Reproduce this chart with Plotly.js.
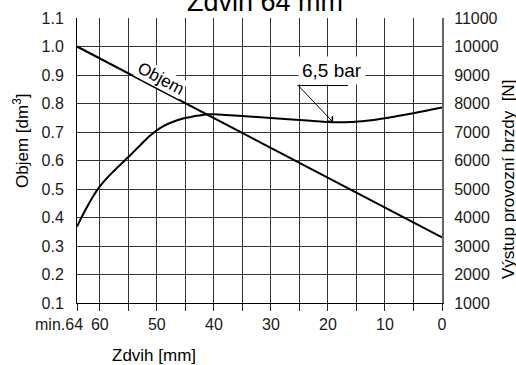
<!DOCTYPE html>
<html>
<head>
<meta charset="utf-8">
<script src="https://cdn.plot.ly/plotly-3.0.1.min.js"></script>
<style>html,body{margin:0;padding:0;background:#fff;}#chart{width:516px;height:365px;}</style>
</head>
<body>
<div id="chart"></div>
<script>
// Objem (volume) line, left axis [dm3]
const objemStroke = [64, 0];
const objemValues = [1.0, 0.33];

// Output force at 6,5 bar, right axis [N]
const forceStroke = [64, 63, 62, 61, 60, 59, 58, 57, 56, 55, 54, 53, 52, 51, 50, 49, 48, 47, 46, 45, 44, 43, 42, 41, 40, 38, 35, 30, 25, 22, 20, 18, 16, 14, 12, 10, 8, 6, 4, 2, 0];
const forceValues = [3680, 4090, 4460, 4800, 5090, 5330, 5540, 5740, 5930, 6120, 6320, 6520, 6720, 6900, 7060, 7190, 7290, 7370, 7440, 7490, 7530, 7570, 7600, 7620, 7620, 7600, 7560, 7490, 7420, 7380, 7350, 7340, 7350, 7380, 7420, 7480, 7550, 7620, 7700, 7780, 7860];

// Tick labels
const xTickVals = [64, 60, 55, 50, 45, 40, 35, 30, 25, 20, 15, 10, 5, 0];
const xTickText = ['', '60', '', '50', '', '40', '', '30', '', '20', '', '10', '', '0'];

const FONT = 'Liberation Sans, Arial, Helvetica, sans-serif';
const GRID = '#333333';

const traces = [
  {x: objemStroke, y: objemValues, type: 'scatter', mode: 'lines', yaxis: 'y',
   line: {color: '#000', width: 2}, hoverinfo: 'skip'},
  {x: forceStroke, y: forceValues, type: 'scatter', mode: 'lines', yaxis: 'y2',
   line: {color: '#000', width: 2, shape: 'spline', smoothing: 0.7}, hoverinfo: 'skip'}
];

const L = 77, T = 18, W = 365, H = 285;
const px = v => (v - L) / W;
const py = v => (T + H - v) / H;

const layout = {
  width: 516, height: 365,
  margin: {l: 77, r: 74, t: 18, b: 62},
  paper_bgcolor: '#ffffff', plot_bgcolor: 'rgba(0,0,0,0)',
  showlegend: false,
  font: {family: FONT, size: 16, color: '#1a1a1a'},
  xaxis: {
    range: [64, 0], tickmode: 'array', tickvals: xTickVals, ticktext: xTickText,
    ticks: 'outside', ticklen: 7, tickcolor: '#222', tickwidth: 1,
    showgrid: true, gridcolor: GRID, gridwidth: 1,
    showline: true, linecolor: '#000', linewidth: 1,
    zeroline: false, layer: 'below traces'
  },
  yaxis: {
    range: [0.1, 1.1], tickmode: 'linear', tick0: 0.1, dtick: 0.1, tickformat: '.1f',
    ticks: 'outside', ticklen: 9, tickcolor: 'rgba(0,0,0,0)',
    showgrid: true, gridcolor: GRID, gridwidth: 1,
    showline: true, linecolor: '#000', linewidth: 1, zeroline: false, layer: 'below traces'
  },
  yaxis2: {
    overlaying: 'y', side: 'right', range: [1000, 11000], tickmode: 'linear', tick0: 1000, dtick: 1000,
    tickformat: 'd', ticks: 'outside', ticklen: 7, tickcolor: 'rgba(0,0,0,0)',
    showgrid: false, showline: true, linecolor: '#666', linewidth: 2,
    zeroline: false
  },
  shapes: [
    {type: 'line', xref: 'x', yref: 'y2', x0: 25.3, x1: 16.5, y0: 8630, y1: 8630,
     line: {color: '#000', width: 1}}
  ],
  annotations: [
    {text: 'Zdvih 64 mm', xref: 'paper', yref: 'paper', x: px(265), y: py(2),
     xanchor: 'center', yanchor: 'middle', showarrow: false,
     font: {size: 27, family: FONT, color: '#000'}},
    {text: 'Objem [dm<sup>3</sup>]', xref: 'paper', yref: 'paper', x: px(21), y: py(141),
     xanchor: 'center', yanchor: 'middle', textangle: -90, showarrow: false,
     font: {size: 17, family: FONT, color: '#000'}},
    {text: 'Výstup provozní brzdy  [N]', xref: 'paper', yref: 'paper', x: px(508), y: py(180),
     xanchor: 'center', yanchor: 'middle', textangle: -90, showarrow: false,
     font: {size: 17, family: FONT, color: '#000'}},
    {text: 'Zdvih [mm]', xref: 'paper', yref: 'paper', x: px(154), y: py(355),
     xanchor: 'center', yanchor: 'middle', showarrow: false,
     font: {size: 17, family: FONT, color: '#000'}},
    {text: 'min.64', xref: 'x', yref: 'paper', x: 64, y: py(324),
     xanchor: 'right', yanchor: 'middle', xshift: 8, showarrow: false,
     font: {size: 16, family: FONT, color: '#1a1a1a'}},
    {text: 'Objem', xref: 'x', yref: 'y', x: 49.3, y: 0.889, textangle: 28,
     xanchor: 'center', yanchor: 'middle', showarrow: false, bgcolor: '#fff', borderpad: 0,
     font: {size: 17, family: FONT, color: '#000'}},
    {text: '6,5 bar', xref: 'x', yref: 'y2', x: 19.1, y: 7345,
     axref: 'x', ayref: 'y2', ax: 25.3, ay: 8650,
     xanchor: 'left', yanchor: 'bottom', showarrow: true, arrowhead: 4, arrowsize: 1.4,
     arrowwidth: 1, arrowcolor: '#000', bgcolor: '#fff', borderpad: 3, xshift: 0,
     font: {size: 19, family: FONT, color: '#000'}}
  ]
};

Plotly.newPlot('chart', traces, layout, {displayModeBar: false});
</script>
</body>
</html>
